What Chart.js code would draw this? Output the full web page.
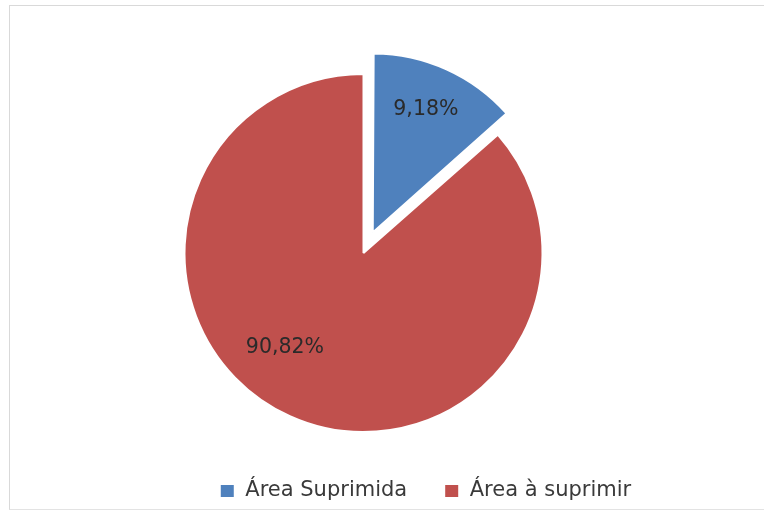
<!DOCTYPE html>
<html>
<head>
<meta charset="utf-8">
<script src="https://cdn.jsdelivr.net/npm/chart.js@4/dist/chart.umd.min.js"></script>
<style>
  html, body { margin: 0; padding: 0; background: #ffffff; }
  #wrap { position: relative; width: 764px; height: 513px; }
  #frame { position: absolute; left: 9px; top: 5px; width: 760px; height: 503px;
           border-left: 1px solid #d9d9d9; border-top: 1px solid #d9d9d9; border-bottom: 1px solid #e3e3e3; }
  canvas { position: absolute; left: 0; top: 0; }
</style>
</head>
<body>
<div id="wrap">
  <div id="frame"></div>
  <canvas id="c" width="764" height="513"></canvas>
</div>
<script>
const categories = ['Área Suprimida', 'Área à suprimir'];
// slice sizes as drawn in the picture (blue wedge spans ~48.7 degrees)
const values = [13.5, 86.5];
// data labels as printed on the picture
const valueLabels = ['9,18%', '90,82%'];
const colors = ['#4F81BD', '#C0504D'];

// Keep exploded slice at the same radius as the rest (Chart.js enlarges it slightly)
const radiusFix = {
  id: 'radiusFix',
  beforeDatasetsDraw(chart) {
    const meta = chart.getDatasetMeta(0);
    const base = meta.controller.outerRadius;
    meta.data.forEach(arc => {
      const off = (arc.options.offset || 0) / 4;
      const fix = 1 - Math.sin(Math.min(Math.PI, arc.circumference || 0));
      arc.outerRadius = base - off * fix;
    });
  }
};

const labelPlugin = {
  id: 'sliceLabels',
  afterDatasetsDraw(chart, args, opts) {
    const ctx = chart.ctx;
    const meta = chart.getDatasetMeta(0);
    const base = meta.controller.outerRadius;
    ctx.save();
    ctx.font = opts.font;
    ctx.fillStyle = opts.color;
    ctx.textAlign = 'center';
    ctx.textBaseline = 'middle';
    meta.data.forEach((arc, i) => {
      const p = opts.placement[i];
      const a = p.angle * Math.PI / 180;
      const r = base * p.r;
      const x = arc.x + Math.sin(a) * r;
      const y = arc.y - Math.cos(a) * r;
      ctx.fillText(valueLabels[i], x, y);
    });
    ctx.restore();
  }
};

new Chart(document.getElementById('c'), {
  type: 'pie',
  data: {
    labels: categories,
    datasets: [{
      data: values,
      backgroundColor: colors,
      borderColor: '#ffffff',
      borderWidth: 2,
      offset: [90, 0],
      hoverOffset: 0
    }]
  },
  options: {
    responsive: false,
    animation: false,
    events: [],
    radius: 179,
    layout: { padding: { left: 87, right: 0, top: 62.5, bottom: 1.5 } },
    plugins: {
      tooltip: { enabled: false },
      title: {
        display: true,
        position: 'right',
        text: ' ',
        font: { size: 18, lineHeight: 1 },
        padding: { top: 53, bottom: 53 }
      },
      legend: {
        position: 'bottom',
        labels: {
          boxWidth: 15,
          boxHeight: 14,
          padding: 37,
          color: '#3a3a3a',
          font: { family: 'DejaVu Sans', size: 21 }
        }
      },
      sliceLabels: {
        font: '20.5px "DejaVu Sans"',
        color: '#2a2a2a',
        placement: [
          { angle: 23.5, r: 0.874 },
          { angle: 219.7, r: 0.687 }
        ]
      }
    }
  },
  plugins: [radiusFix, labelPlugin]
});
</script>
</body>
</html>
